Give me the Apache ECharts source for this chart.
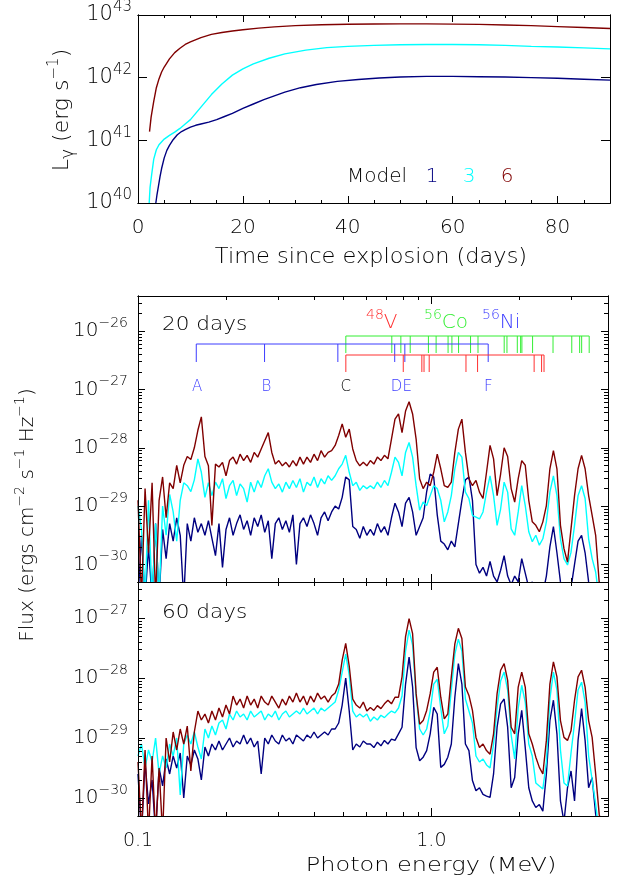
<!DOCTYPE html>
<html>
<head>
<meta charset="utf-8">
<script src="https://cdn.jsdelivr.net/npm/echarts@6/dist/echarts.min.js"></script>
<style>
  html, body { margin: 0; padding: 0; background: #fff; }
  #c { width: 624px; height: 887px; }
</style>
</head>
<body>
<div id="c"></div>
<script>
// ---- Gamma-ray luminosity vs time (log10 L in erg/s) ----
const t1 = [3.2,3.4,3.6,3.9,4.2,4.5,5,5.5,6,6.7,7.5,8.3,9,10,11,12,13.5,15,16.5,18,20,22,24,26,28,31,34,38,42,46,50,55,60,65,70,75,80,85,90];
const logL1 = [39.8,40.0,40.12,40.27,40.42,40.55,40.72,40.84,40.92,41.01,41.09,41.14,41.17,41.21,41.24,41.26,41.29,41.33,41.38,41.43,41.51,41.58,41.65,41.71,41.77,41.84,41.89,41.94,41.97,41.995,42.01,42.02,42.02,42.015,42.01,42.0,41.99,41.975,41.96];
const t3 = [2.0,2.1,2.3,2.6,3,3.5,4,5,6,7,8,9,10,11,12,14,16,18,20,22,25,28,32,36,40,45,50,55,60,65,70,75,80,85,90];
const logL3 = [39.7,39.95,40.25,40.45,40.7,40.85,40.93,41.02,41.08,41.13,41.19,41.26,41.33,41.43,41.53,41.73,41.9,42.04,42.14,42.22,42.31,42.38,42.44,42.48,42.5,42.515,42.525,42.53,42.53,42.525,42.515,42.5,42.49,42.475,42.46];
const t6 = [2.2,2.5,3,3.5,4,4.5,5,6,7,8,9,10,12,14,16,18,20,23,26,30,35,40,45,50,55,60,65,70,75,80,85,90];
const logL6 = [41.14,41.37,41.62,41.84,41.98,42.09,42.17,42.3,42.4,42.47,42.53,42.57,42.64,42.69,42.72,42.745,42.765,42.79,42.81,42.83,42.845,42.853,42.857,42.858,42.858,42.855,42.85,42.84,42.83,42.815,42.80,42.785];

// ---- Spectra: photon energy bins (MeV) and log10 flux (erg cm^-2 s^-1 Hz^-1) ----
const energyMeV = [0.1000,0.1028,0.1057,0.1086,0.1117,0.1148,0.1180,0.1213,0.1247,0.1282,0.1318,0.1355,0.1393,0.1432,0.1472,0.1514,0.1556,0.1600,0.1644,0.1691,0.1738,0.1786,0.1837,0.1888,0.1941,0.1995,0.2051,0.2109,0.2168,0.2228,0.2291,0.2355,0.2421,0.2489,0.2559,0.2630,0.2704,0.2780,0.2858,0.2938,0.3020,0.3105,0.3192,0.3281,0.3373,0.3467,0.3565,0.3664,0.3767,0.3873,0.3981,0.4093,0.4207,0.4325,0.4446,0.4571,0.4699,0.4831,0.4966,0.5105,0.5248,0.5395,0.5546,0.5702,0.5861,0.6026,0.6194,0.6368,0.6546,0.6730,0.6918,0.7112,0.7311,0.7516,0.7727,0.7943,0.8166,0.8395,0.8630,0.8872,0.9120,0.9376,0.9638,0.9908,1.0186,1.0471,1.0765,1.1066,1.1376,1.1695,1.2023,1.2359,1.2706,1.3062,1.3428,1.3804,1.4191,1.4588,1.4997,1.5417,1.5849,1.6293,1.6749,1.7219,1.7701,1.8197,1.8707,1.9231,1.9770,2.0324,2.0893,2.1478,2.2080,2.2699,2.3335,2.3988,2.4660,2.5351,2.6062,2.6792,2.7542,2.8314,2.9107,2.9923,3.0761,3.1623,3.2509,3.3420,3.4356,3.5318,3.6308,3.7325,3.8371,3.9446,4.0551];

// 20 days
const logFlux20_m6 = [-28.9,-30.6,-28.7,-29.8,-28.6,-30.6,-28.9,-28.5,-29.2,-28.6,
  -28.7,-28.3,-28.6,-28.3,-28.15,-28.2,-28.0,-27.7,-27.47,-28.15,
  -28.31,-29.33,-28.28,-28.33,-28.25,-28.48,-28.22,-28.16,-28.28,-28.11,
  -28.22,-28.13,-28.25,-28.08,-28.16,-28.02,-27.88,-27.74,-28.08,-28.28,
  -28.22,-28.31,-28.25,-28.33,-28.22,-28.31,-28.16,-28.28,-28.16,-28.25,
  -28.11,-28.22,-28.05,-28.16,-28.08,-28.05,-27.96,-27.79,-27.59,-27.82,
  -27.68,-28.02,-28.22,-28.31,-28.25,-28.31,-28.22,-28.28,-28.16,-28.22,
  -28.13,-28.19,-27.85,-27.51,-27.42,-27.74,-27.37,-27.21,-27.42,-27.85,
  -28.53,-28.70,-28.59,-28.65,-28.42,-28.11,-28.36,-28.65,-28.68,-28.59,
  -28.08,-27.68,-27.51,-28.08,-28.53,-28.65,-28.56,-28.76,-28.87,-28.42,
  -27.96,-28.19,-28.82,-28.45,-28.0,-28.15,-28.7,-28.93,-28.53,-28.22,
  -28.3,-28.9,-29.27,-29.33,-29.44,-29.27,-28.99,-28.36,-28.05,-28.36,
  -29.33,-29.73,-29.96,-29.39,-28.82,-28.36,-28.13,-28.36,-28.82,-29.16,
  -29.50,-30.30,-30.6,-30.6,-30.6];
const logFlux20_m3 = [-29.0,-29.4,-30.6,-28.9,-30.6,-29.3,-30.6,-29.0,-29.5,-28.8,
  -29.1,-29.6,-28.9,-28.6,-28.65,-28.75,-28.55,-28.19,-28.42,-28.85,
  -28.6,-28.82,-28.59,-28.70,-28.53,-28.87,-28.65,-28.56,-28.82,-28.62,
  -28.70,-28.93,-28.59,-28.76,-28.56,-28.68,-28.48,-28.36,-28.59,-28.70,
  -28.62,-28.76,-28.59,-28.70,-28.56,-28.68,-28.53,-28.76,-28.59,-28.65,
  -28.50,-28.68,-28.53,-28.62,-28.48,-28.56,-28.48,-28.36,-28.28,-28.13,
  -28.42,-28.65,-28.59,-28.73,-28.65,-28.70,-28.65,-28.70,-28.59,-28.68,
  -28.56,-28.65,-28.42,-28.16,-28.25,-28.48,-28.08,-27.91,-28.16,-28.65,
  -29.07,-28.93,-28.99,-28.82,-28.65,-28.70,-28.90,-29.27,-29.10,-28.82,
  -28.36,-28.08,-28.16,-28.76,-28.87,-29.16,-29.19,-29.22,-29.10,-28.76,
  -28.48,-28.82,-29.33,-29.05,-28.59,-28.76,-29.39,-29.50,-29.10,-28.65,
  -28.99,-29.44,-29.61,-29.50,-29.67,-29.56,-29.27,-28.76,-28.48,-28.82,
  -29.56,-29.90,-30.01,-29.79,-29.33,-28.82,-28.65,-28.87,-29.56,-29.90,
  -30.13,-30.6,-30.6,-30.6,-30.6];
const logFlux20_m1 = [-30.6,-29.5,-30.6,-29.7,-30.6,-29.3,-30.6,-29.4,-29.9,-29.3,
  -29.6,-29.2,-29.5,-30.6,-29.3,-29.6,-29.2,-29.45,-29.3,-29.5,
  -29.25,-29.55,-29.85,-29.3,-30.05,-29.4,-29.2,-29.5,-29.3,-29.15,
  -29.4,-29.25,-29.5,-29.2,-29.35,-29.15,-29.45,-29.25,-29.9,-29.3,
  -29.2,-29.4,-29.25,-29.45,-29.15,-30.0,-29.3,-29.2,-29.35,-29.15,
  -29.3,-29.5,-29.2,-29.1,-29.25,-29.1,-29.0,-29.05,-28.85,-28.5,
  -28.55,-29.35,-29.4,-29.55,-29.35,-29.5,-29.4,-29.5,-29.3,-29.45,
  -29.35,-29.5,-29.2,-28.95,-29.1,-29.35,-28.95,-28.85,-29.1,-29.5,
  -29.35,-29.2,-28.75,-28.45,-28.5,-29.15,-29.6,-29.65,-29.75,-29.6,
  -29.7,-29.3,-28.9,-28.55,-28.5,-28.9,-30.0,-30.15,-30.05,-30.2,
  -29.95,-30.2,-30.3,-30.1,-29.85,-30.2,-30.35,-30.2,-30.3,-29.9,
  -30.15,-30.4,-30.3,-30.45,-30.35,-30.5,-30.2,-29.7,-29.35,-29.8,
  -30.3,-30.5,-30.6,-30.4,-30.0,-29.6,-29.5,-29.8,-30.3,-30.6,
  -30.6,-30.6,-30.6,-30.6,-30.6];

// 60 days
const logFlux60_m6 = [-29.4,-30.6,-29.2,-30.6,-29.3,-30.6,-29.5,-30.6,-29.0,-29.4,
  -28.9,-29.2,-28.85,-29.1,-28.8,-29.55,-28.9,-28.55,-28.7,-28.6,
  -28.75,-28.55,-28.7,-28.5,-28.65,-28.45,-28.6,-28.3,-28.45,-28.35,
  -28.5,-28.3,-28.45,-28.35,-28.5,-28.3,-28.4,-28.45,-28.3,-28.4,
  -28.5,-28.35,-28.45,-28.3,-28.4,-28.25,-28.4,-28.3,-28.45,-28.3,
  -28.4,-28.25,-28.35,-28.3,-28.4,-28.3,-28.25,-28.1,-27.7,-27.42,
  -27.8,-28.35,-28.45,-28.5,-28.4,-28.55,-28.49,-28.54,-28.46,-28.51,
  -28.43,-28.37,-28.43,-28.32,-28.32,-27.98,-27.31,-27.01,-27.26,-28.26,
  -28.77,-28.71,-28.54,-28.26,-27.90,-27.82,-28.32,-28.68,-28.60,-27.98,
  -27.43,-27.17,-27.34,-28.15,-28.29,-28.54,-28.99,-29.16,-29.10,-29.21,
  -29.27,-28.93,-28.26,-27.87,-27.76,-28.04,-28.82,-28.93,-28.15,-27.90,
  -28.15,-28.93,-29.10,-29.32,-29.49,-29.60,-29.04,-28.10,-27.73,-27.98,
  -28.71,-28.99,-29.04,-28.88,-28.37,-27.98,-27.87,-28.15,-28.71,-28.99,
  -29.60,-30.27,-30.6,-30.6,-30.6];
const logFlux60_m3 = [-29.3,-29.1,-29.5,-29.2,-29.4,-29.0,-29.6,-29.3,-29.5,-29.1,
  -29.3,-29.0,-29.95,-29.1,-28.95,-29.1,-28.9,-29.15,-29.35,-28.85,
  -29.0,-28.8,-28.95,-28.75,-28.7,-28.85,-28.6,-28.7,-28.55,-28.65,
  -28.6,-28.7,-28.55,-28.65,-28.6,-28.55,-28.7,-28.6,-28.65,-28.55,
  -28.7,-28.6,-28.55,-28.65,-28.6,-28.55,-28.6,-28.5,-28.6,-28.55,
  -28.5,-28.6,-28.5,-28.55,-28.5,-28.45,-28.4,-28.2,-27.9,-27.6,
  -27.95,-28.55,-28.65,-28.6,-28.65,-28.6,-28.72,-28.65,-28.7,-28.62,
  -28.66,-28.6,-28.55,-28.58,-28.5,-28.3,-27.55,-27.2,-27.45,-28.3,
  -28.85,-28.95,-28.85,-28.55,-28.1,-28.02,-28.5,-28.93,-28.8,-28.2,
  -27.6,-27.35,-27.55,-28.35,-28.55,-28.75,-29.3,-29.4,-29.35,-29.45,
  -29.5,-29.1,-28.5,-28.05,-27.9,-28.2,-28.95,-29.35,-28.5,-28.12,
  -28.4,-29.1,-29.3,-29.75,-29.8,-29.85,-29.4,-28.35,-27.9,-28.2,
  -29.2,-29.75,-29.8,-29.25,-28.75,-28.2,-28.07,-28.4,-29.3,-29.7,
  -30.1,-30.6,-30.6,-30.6,-30.6];
const logFlux60_m1 = [-29.6,-30.6,-29.4,-30.1,-29.7,-30.6,-29.5,-29.8,-29.35,-29.6,
  -29.3,-29.5,-29.25,-30.0,-29.3,-29.45,-29.2,-29.35,-29.7,-29.15,
  -29.3,-29.1,-29.2,-29.05,-29.2,-29.1,-29.0,-29.15,-29.05,-29.1,
  -28.95,-29.1,-29.0,-29.15,-29.05,-29.6,-29.0,-29.1,-28.95,-29.05,
  -29.1,-28.95,-29.05,-29.0,-29.1,-28.95,-29.0,-29.05,-28.95,-29.0,
  -28.9,-29.0,-28.95,-28.9,-28.95,-28.85,-28.85,-28.75,-28.45,-28.0,
  -28.55,-29.2,-29.1,-29.15,-29.05,-29.1,-29.10,-29.16,-29.07,-29.13,
  -29.04,-29.10,-29.02,-29.04,-28.93,-28.82,-28.10,-27.65,-28.15,-29.16,
  -29.38,-29.32,-29.21,-28.93,-28.49,-28.60,-29.49,-29.44,-29.32,-29.10,
  -28.32,-27.76,-28.10,-29.10,-29.21,-29.71,-29.88,-29.83,-29.94,-29.97,
  -29.99,-29.60,-28.82,-28.43,-28.35,-28.82,-29.83,-29.66,-28.93,-28.54,
  -29.16,-29.83,-30.05,-30.16,-30.11,-30.22,-29.60,-28.71,-28.37,-28.93,
  -30.05,-30.4,-29.83,-29.55,-30.05,-29.04,-28.51,-29.04,-29.83,-29.66,
  -30.27,-30.6,-30.6,-30.6,-30.6];

// ---- Gamma-ray line lists (MeV) ----
const ni56Lines = [0.158, 0.270, 0.480, 0.750, 0.812, 1.562];
const co56Lines = [0.511, 0.733, 0.787, 0.847, 0.977, 1.038, 1.140, 1.175, 1.238, 1.360, 1.442, 1.771, 1.810, 1.963, 2.015, 2.035, 2.213, 2.598, 3.010, 3.202, 3.253, 3.451];
const v48Lines = [0.511, 0.802, 0.928, 0.944, 0.983, 1.312, 1.437, 2.240, 2.375, 2.421];
const featureNames = ['A', 'B', 'C', 'DE', 'F'];
const featureEnergies = [0.159, 0.274, 0.511, 0.79, 1.562];

// ---- Axis tick labels ----
const timeTicks = [0, 20, 40, 60, 80];
const lumTicks = [1e40, 1e41, 1e42, 1e43];
const flux20Decades = [-30, -29, -28, -27, -26];   // log10 of flux tick values
const flux60Decades = [-30, -29, -28, -27];
const energyTicks = [0.1, 1.0];

// Flux axis ranges (log10 of erg cm^-2 s^-1 Hz^-1)
const FLUX_LO = Math.log10(5e-31), FLUX20_HI = Math.log10(4e-26), FLUX60_HI = Math.log10(4e-27);

const FONT = 'DejaVu Sans';
const FW = 200;
const C1 = '#000080', C3 = '#00ffff', C6 = '#800000';
const BLUE = '#3c3cff', GREEN = '#33ee33', RED = '#ff3030';

// minor tick positions (2..9 x 10^d) expressed in log10 units
function logMinor(lo, hi) {
  const out = [];
  for (let d = Math.floor(lo); d <= Math.ceil(hi); d++) {
    for (let m = 2; m <= 9; m++) {
      const v = d + Math.log10(m);
      if (v > lo + 1e-6 && v < hi - 1e-6) out.push(v);
    }
  }
  return out;
}

function expLabel(e) {
  e = Math.round(e);
  return '{b|10}{s|' + (e < 0 ? '\u2212' + (-e) : e) + '}';
}
function richPow(fs, sfs) {
  return {
    b: { fontSize: fs, fontFamily: FONT, fontWeight: FW, color: '#000', lineHeight: 30, verticalAlign: 'middle' },
    s: { fontSize: sfs, fontFamily: FONT, fontWeight: FW, color: '#000', lineHeight: 13, verticalAlign: 'top' }
  };
}

// Builds four axes for one dimension of a panel: labelled major, minor, and mirrored pair.
function axisSet(dim, grid, type, min, max, o) {
  const sides = dim === 'x' ? ['bottom', 'top'] : ['left', 'right'];
  const out = [];
  sides.forEach((pos, si) => {
    [['major', o.majorLen], ['minor', o.minorLen]].forEach(([kind, len]) => {
      const vals = o[kind] || [];
      const showLab = si === 0 && kind === 'major' && !!o.labels;
      const ax = {
        gridIndex: grid, type: type, min: min, max: max, position: pos,
        axisLine: { show: true, onZero: false, lineStyle: { color: '#000', width: 1 } },
        axisTick: { show: vals.length > 0, inside: true, length: len, customValues: vals.length ? vals : undefined,
                    lineStyle: { color: '#000', width: 1 } },
        minorTick: { show: false }, splitLine: { show: false }, splitArea: { show: false },
        axisPointer: { show: false }, silent: true, z: 5,
        axisLabel: { show: false }
      };
      if (type === 'log') ax.logBase = 10;
      if (showLab) {
        ax.axisLabel = {
          show: true, customValues: o.labels, formatter: o.fmt, color: '#000',
          fontFamily: FONT, fontWeight: FW, fontSize: o.fontSize, margin: o.margin, rich: o.rich
        };
      }
      out.push(ax);
    });
  });
  return out;
}

const ENERGY_MINOR = [0.2,0.3,0.4,0.5,0.6,0.7,0.8,0.9,2,3];

const xAxes = [].concat(
  axisSet('x', 0, 'value', 0, 90, { major: [20,40,60,80], minor: [5,10,15,25,30,35,45,50,55,65,70,75,85],
    majorLen: 7, minorLen: 3, labels: timeTicks, fmt: v => String(v), fontSize: 20, margin: 15 }),
  axisSet('x', 1, 'log', 0.1, 4, { major: [1], minor: ENERGY_MINOR, majorLen: 8, minorLen: 4 }),
  axisSet('x', 2, 'log', 0.1, 4, { major: [1], minor: ENERGY_MINOR, majorLen: 8, minorLen: 4,
    labels: energyTicks, fmt: v => v.toFixed(1), fontSize: 19, margin: 16 })
);
const yAxes = [].concat(
  axisSet('y', 0, 'log', 1e40, 1e43, { major: [1e41, 1e42], minor: [], majorLen: 9, minorLen: 4,
    labels: lumTicks, fmt: v => expLabel(Math.log10(v)), fontSize: 21, margin: 6, rich: richPow(21, 15) }),
  axisSet('y', 1, 'value', FLUX_LO, FLUX20_HI, { major: flux20Decades, minor: logMinor(FLUX_LO, FLUX20_HI), majorLen: 7, minorLen: 4,
    labels: flux20Decades, fmt: expLabel, fontSize: 20, margin: 10, rich: richPow(20, 14) }),
  axisSet('y', 2, 'value', FLUX_LO, FLUX60_HI, { major: flux60Decades, minor: logMinor(FLUX_LO, FLUX60_HI), majorLen: 7, minorLen: 4,
    labels: flux60Decades, fmt: expLabel, fontSize: 20, margin: 10, rich: richPow(20, 14) })
);

function lumSeries(t, logL, color) {
  return {
    type: 'line', xAxisIndex: 0, yAxisIndex: 0,
    data: t.map((v, i) => [v, Math.pow(10, logL[i])]),
    showSymbol: false, clip: true, silent: true, animation: false,
    lineStyle: { color: color, width: 1.4 }, itemStyle: { color: color }
  };
}
function specSeries(axisIdx, logF, color) {
  return {
    type: 'line', xAxisIndex: axisIdx, yAxisIndex: axisIdx,
    data: energyMeV.map((e, i) => [e, logF[i]]),
    showSymbol: false, clip: true, silent: true, animation: false,
    lineStyle: { color: color, width: 1.4 }, itemStyle: { color: color }
  };
}
// Line list bracket: horizontal bar with a vertical tick at every line energy.
function lineListSeries(energies, color, barOff, tickOff) {
  return {
    type: 'custom', coordinateSystem: 'cartesian2d', xAxisIndex: 4, yAxisIndex: 4,
    data: energies.map(e => [e, -27]), silent: true, clip: false, animation: false, z: 10,
    renderItem(params, api) {
      const cs = params.coordSys;
      const x = api.coord([api.value(0), -27])[0];
      const children = [{ type: 'line', shape: { x1: x, y1: cs.y + barOff, x2: x, y2: cs.y + tickOff },
        style: { stroke: color, lineWidth: 1 } }];
      if (params.dataIndex === 0) {
        const x2 = api.coord([energies[energies.length - 1], -27])[0];
        children.push({ type: 'line', shape: { x1: x, y1: cs.y + barOff, x2: x2, y2: cs.y + barOff },
          style: { stroke: color, lineWidth: 1 } });
      }
      return { type: 'group', children: children };
    }
  };
}
const featureSeries = {
  type: 'custom', coordinateSystem: 'cartesian2d', xAxisIndex: 4, yAxisIndex: 4,
  data: featureEnergies.map(e => [e, -27]), silent: true, clip: false, animation: false, z: 10,
  renderItem(params, api) {
    const cs = params.coordSys;
    const x = api.coord([api.value(0), -27])[0];
    const name = featureNames[params.dataIndex];
    return { type: 'text', x: x, y: cs.y + 91,
      style: { text: name, fill: name === 'C' ? '#000' : BLUE, fontFamily: FONT, fontWeight: FW, fontSize: 15,
               align: 'center', verticalAlign: 'middle' } };
  }
};

function txt(x, y, text, o) {
  o = o || {};
  return {
    type: 'text', x: x, y: y, rotation: o.rot || 0, scaleX: o.sx || 1, silent: true, z: 100,
    style: { text: text, fill: o.color || '#000', fontFamily: FONT, fontWeight: FW, fontSize: o.fs || 20,
             align: o.align || 'left', verticalAlign: 'middle',
             textAlign: o.align || 'left', textVerticalAlign: 'middle', rich: o.rich }
  };
}
const supRich = (fs, color) => ({
  n: { fontSize: fs, fontFamily: FONT, fontWeight: FW, fill: color, color: color, lineHeight: 30, verticalAlign: 'middle' },
  p: { fontSize: Math.round(fs * 0.7), fontFamily: FONT, fontWeight: FW, fill: color, color: color, lineHeight: 13, verticalAlign: 'top' },
  g: { fontSize: Math.round(fs * 0.75), fontFamily: FONT, fontWeight: FW, fill: color, color: color, lineHeight: 14, verticalAlign: 'bottom' }
});

const option = {
  backgroundColor: '#fff',
  animation: false,
  grid: [
    { left: 138, top: 7, width: 472, height: 196 },
    { left: 138, top: 296, width: 470, height: 286 },
    { left: 138, top: 582, width: 470, height: 234 }
  ],
  xAxis: xAxes,
  yAxis: yAxes,
  series: [
    lumSeries(t1, logL1, C1),
    lumSeries(t3, logL3, C3),
    lumSeries(t6, logL6, C6),
    specSeries(4, logFlux20_m1, C1),
    specSeries(4, logFlux20_m3, C3),
    specSeries(4, logFlux20_m6, C6),
    specSeries(8, logFlux60_m1, C1),
    specSeries(8, logFlux60_m3, C3),
    specSeries(8, logFlux60_m6, C6),
    lineListSeries(co56Lines, GREEN, 40, 57),
    lineListSeries(ni56Lines, BLUE, 48, 66),
    lineListSeries(v48Lines, RED, 59, 76),
    featureSeries
  ],
  graphic: [
    txt(371, 258, 'Time since explosion (days)', { fs: 21, align: 'center', sx: 1.07 }),
    txt(431, 866, 'Photon energy (MeV)', { fs: 20, align: 'center', sx: 1.2 }),
    txt(62, 110, '{n|L}{g|\u03b3}{n| (erg s}{p|\u22121}{n|)}', { rot: Math.PI / 2, align: 'center', rich: supRich(22, '#000') }),
    txt(28, 515, '{n|Flux (ergs cm}{p|\u22122}{n| s}{p|\u22121}{n| Hz}{p|\u22121}{n|)}', { rot: Math.PI / 2, align: 'center', rich: supRich(20, '#000') }),
    txt(347, 177, 'Model', { fs: 20 }),
    txt(432, 177, '1', { fs: 20, align: 'center', color: C1 }),
    txt(469, 177, '3', { fs: 20, align: 'center', color: C3 }),
    txt(507, 177, '6', { fs: 20, align: 'center', color: C6 }),
    txt(162, 325, '20 days', { fs: 20, sx: 1.08 }),
    txt(162, 613, '60 days', { fs: 20, sx: 1.08 }),
    txt(366, 323, '{p|48}{n|V}', { rich: supRich(20, RED) }),
    txt(424, 323, '{p|56}{n|Co}', { rich: supRich(20, GREEN) }),
    txt(482, 323, '{p|56}{n|Ni}', { rich: supRich(20, BLUE) })
  ]
};

const chart = echarts.init(document.getElementById('c'), null, { renderer: 'canvas', width: 624, height: 887 });
chart.setOption(option);
</script>
</body>
</html>
